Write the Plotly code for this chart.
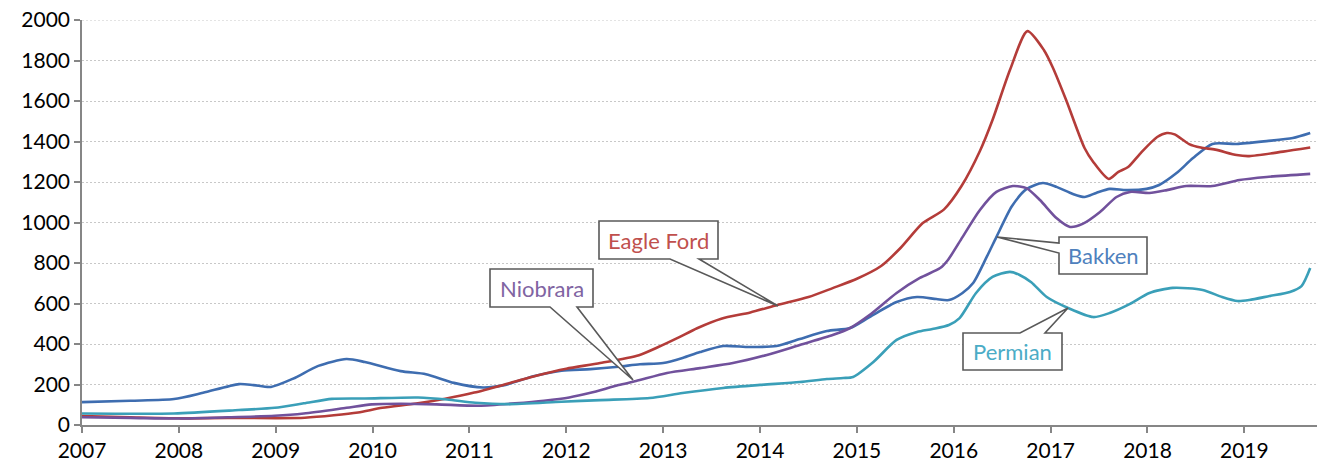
import plotly.graph_objects as go

# ---------------- data (decimal years, values) ----------------
bakken_x = [2007.0, 2007.5, 2007.95, 2008.25, 2008.62, 2008.77, 2008.95, 2009.18, 2009.44, 2009.73,
            2009.92, 2010.29, 2010.55, 2010.84, 2011.14, 2011.36, 2011.66, 2011.95, 2012.25, 2012.54,
            2012.76, 2013.0, 2013.2, 2013.38, 2013.62, 2013.89, 2014.17, 2014.41, 2014.69, 2014.93,
            2015.13, 2015.41, 2015.62, 2015.82, 2015.95, 2016.09, 2016.2, 2016.34, 2016.44, 2016.6,
            2016.75, 2016.92, 2017.06, 2017.23, 2017.35, 2017.47, 2017.61, 2017.78, 2017.99, 2018.12,
            2018.3, 2018.47, 2018.67, 2018.92, 2019.23, 2019.5, 2019.68]
bakken_y = [113, 120, 128, 159, 202, 197, 188, 229, 292, 326,
            311, 266, 251, 208, 185, 197, 241, 268, 276, 288,
            300, 306, 331, 360, 390, 385, 390, 425, 464, 479,
            533, 607, 632, 622, 617, 652, 701, 830, 928, 1080,
            1165, 1195, 1176, 1141, 1126, 1146, 1166, 1160, 1166, 1185,
            1244, 1318, 1388, 1388, 1402, 1417, 1442]

eagle_x = [2007.0, 2007.5, 2008.0, 2008.5, 2009.0, 2009.3, 2009.6, 2009.85, 2010.1, 2010.45,
           2010.75, 2011.05, 2011.4, 2011.7, 2012.0, 2012.35, 2012.75, 2012.95, 2013.15, 2013.35,
           2013.6, 2013.9, 2014.18, 2014.5, 2014.75, 2015.0, 2015.25, 2015.45, 2015.68, 2015.9,
           2016.08, 2016.27, 2016.4, 2016.58, 2016.76, 2016.93, 2017.02, 2017.16, 2017.35, 2017.44,
           2017.6, 2017.7, 2017.8, 2017.93, 2018.1, 2018.2, 2018.28, 2018.43, 2018.55, 2018.7,
           2018.92, 2019.05, 2019.4, 2019.68]
eagle_y = [44, 38, 33, 35, 34, 36, 48, 62, 85, 106,
           130, 160, 205, 245, 278, 306, 345, 385, 430, 478,
           525, 556, 593, 632, 676, 722, 785, 874, 997, 1065,
           1180, 1353, 1506, 1753, 1945, 1852, 1768, 1605, 1368, 1299,
           1215, 1250, 1274, 1343, 1422, 1442, 1435, 1387, 1370, 1360,
           1333, 1328, 1350, 1370]

niobrara_x = [2007.0, 2007.5, 2008.0, 2008.5, 2008.99, 2009.29, 2009.73, 2009.99, 2010.29, 2010.66,
              2011.1, 2011.47, 2011.77, 2012.03, 2012.25, 2012.54, 2012.72, 2013.04, 2013.38, 2013.72,
              2014.07, 2014.41, 2014.75, 2014.93, 2015.13, 2015.41, 2015.65, 2015.86, 2015.94, 2016.09,
              2016.27, 2016.44, 2016.61, 2016.75, 2016.89, 2017.06, 2017.2, 2017.33, 2017.51, 2017.68,
              2017.82, 2018.02, 2018.2, 2018.4, 2018.67, 2018.95, 2019.23, 2019.68]
niobrara_y = [38, 35, 32, 38, 46, 57, 85, 102, 105, 102,
              95, 107, 120, 136, 159, 197, 217, 257, 281, 306,
              346, 395, 444, 479, 543, 652, 726, 775, 815, 928,
              1062, 1151, 1180, 1170, 1111, 1022, 978, 993, 1052, 1126,
              1151, 1146, 1160, 1180, 1180, 1210, 1225, 1240]

permian_x = [2007.0, 2007.95, 2008.62, 2008.99, 2009.29, 2009.58, 2009.92, 2010.47, 2010.77, 2011.06,
             2011.4, 2011.95, 2012.35, 2012.86, 2013.2, 2013.62, 2014.0, 2014.41, 2014.69, 2014.86,
             2014.96, 2015.17, 2015.41, 2015.62, 2015.78, 2015.95, 2016.06, 2016.23, 2016.4, 2016.58,
             2016.68, 2016.8, 2016.96, 2017.18, 2017.44, 2017.61, 2017.82, 2018.02, 2018.26, 2018.57,
             2018.77, 2018.93, 2019.05, 2019.26, 2019.47, 2019.59, 2019.68]
permian_y = [57, 57, 74, 85, 107, 129, 131, 136, 126, 110,
             103, 115, 123, 133, 158, 183, 198, 212, 227, 232,
             237, 311, 420, 459, 474, 494, 528, 652, 731, 756,
             741, 705, 632, 578, 533, 553, 598, 652, 677, 667,
             632, 612, 617, 637, 657, 686, 775]

year_ticks = list(range(2007, 2020))
value_ticks = list(range(0, 2001, 200))

# ---------------- layout geometry (window pixels) ----------------
W, H = 1321, 469
L, R, T, B = 82, 1317, 20, 425
X0, X1 = 2007.0, 2019.75
Y0, Y1 = 0, 2000

GRID_COLOR = "#C8C8C8"
GRID_DASH = "2px,2px"


def dx(px):
    return X0 + (px - L) / (R - L) * (X1 - X0)


def dy(py):
    return Y0 + (B - py) / (B - T) * (Y1 - Y0)


def path(points):
    return "M " + " L ".join(f"{dx(a):.5f},{dy(b):.3f}" for a, b in points) + " Z"


series = [
    ("Bakken", bakken_x, bakken_y, "#3E6DB0", "#4F81BD"),
    ("Eagle Ford", eagle_x, eagle_y, "#B43C39", "#C0504D"),
    ("Niobrara", niobrara_x, niobrara_y, "#71519C", "#8064A2"),
    ("Permian", permian_x, permian_y, "#3A9FB8", "#4BACC6"),
]

fig = go.Figure()
for name, xs, ys, col, _ in series:
    fig.add_trace(go.Scatter(x=xs, y=ys, mode="lines", name=name,
                             line=dict(color=col, width=2.6, shape="spline", smoothing=0.7)))

callouts = {
    "Eagle Ford": [(599, 221), (718, 221), (718, 259), (699, 259), (778, 306), (670, 259), (599, 259)],
    "Niobrara": [(490, 269), (593, 269), (593, 307), (577, 307), (633, 380), (550, 307), (490, 307)],
    "Bakken": [(1059, 237), (1147, 237), (1147, 274), (1059, 274), (1059, 253), (997, 237), (1059, 243)],
    "Permian": [(963, 333), (1020, 333), (1068, 308), (1045, 333), (1062, 333), (1062, 370), (963, 370)],
}
label_centers = {
    "Eagle Ford": (658.5, 240),
    "Niobrara": (541.5, 288),
    "Bakken": (1103, 255.5),
    "Permian": (1012.5, 351.5),
}
text_colors = {s[0]: s[4] for s in series}

# top gridline (plotly drops the gridline that lies on the plot edge)
shapes = [dict(type="line", xref="paper", yref="y", x0=0, x1=1, y0=Y1, y1=Y1,
               line=dict(color=GRID_COLOR, width=1.2, dash=GRID_DASH), layer="below")]
annotations = []
for name, pts in callouts.items():
    shapes.append(dict(type="path", xref="x", yref="y", path=path(pts),
                       line=dict(color="#595959", width=1.6), fillcolor="white", layer="above"))
    cx, cy = label_centers[name]
    annotations.append(dict(x=dx(cx), y=dy(cy), xref="x", yref="y", text=name, showarrow=False,
                            font=dict(family="Lato", size=22, color=text_colors[name]),
                            xanchor="center", yanchor="middle"))

fig.update_layout(
    width=W, height=H,
    margin=dict(l=L, r=W - R, t=T, b=H - B),
    paper_bgcolor="white", plot_bgcolor="white",
    showlegend=False,
    shapes=shapes, annotations=annotations,
    font=dict(family="Lato", size=21, color="#000000"),
)
axis_common = dict(zeroline=False, showline=True, linecolor="#868686", linewidth=1.5,
                   ticks="outside", ticklen=6, tickwidth=1.5, tickcolor="#868686",
                   tickfont=dict(family="Lato", size=21, color="#000000"))
fig.update_xaxes(range=[X0, X1], tickmode="array", tickvals=year_ticks,
                 ticktext=[str(y) for y in year_ticks], showgrid=False, **axis_common)
fig.update_yaxes(range=[Y0, Y1], tickmode="array", tickvals=value_ticks,
                 ticktext=[str(v) for v in value_ticks],
                 showgrid=True, gridcolor=GRID_COLOR, gridwidth=1.2, griddash=GRID_DASH,
                 **axis_common)

# remove the default 8px page margin so the figure sits at the window origin
fig.write_html("out.html", config={"displayModeBar": False},
               post_script="document.body.style.margin='0px';")
